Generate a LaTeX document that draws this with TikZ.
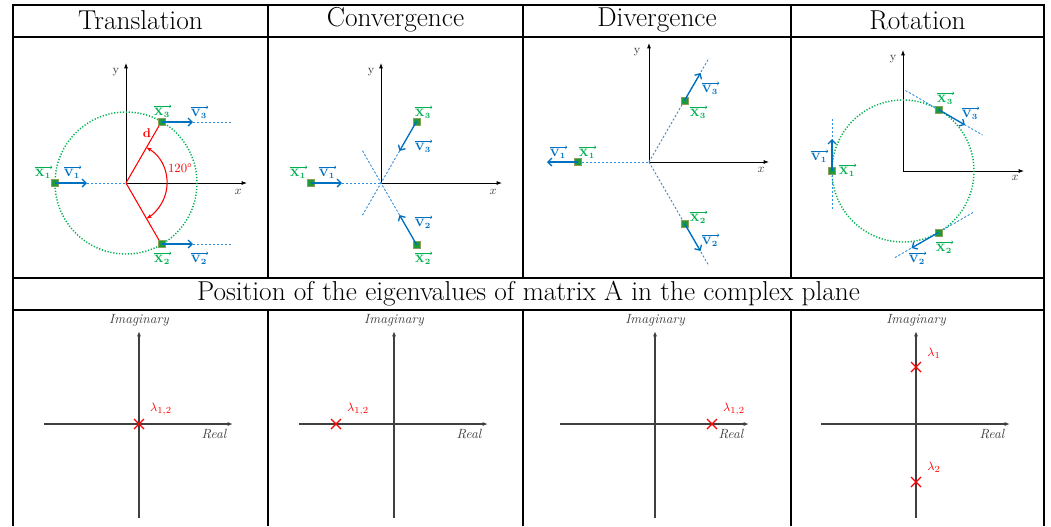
\documentclass[tikz,border=0pt]{standalone}
\usetikzlibrary{arrows.meta,shapes.misc}
\definecolor{gL}{HTML}{00B050}
\definecolor{gS}{HTML}{1E9A3C}
\definecolor{gB}{HTML}{8C9F5A}
\definecolor{bL}{HTML}{0070C0}
\definecolor{bD}{HTML}{2F8FE0}
\definecolor{rL}{HTML}{FF0000}
\definecolor{axc}{HTML}{404040}
\newcommand{\vlab}[1]{$\mathbf{#1}$}
\tikzset{
  grid/.style={line width=0.9pt, black},
  axis/.style={line width=0.7pt, -{Latex[length=4pt,width=3pt]}},
  cax/.style={line width=0.9pt, axc, -{Latex[length=4pt,width=3pt]}},
  cline/.style={line width=0.9pt, axc},
  pt/.style={draw=gB, fill=gS, minimum size=5pt, inner sep=0pt, line width=0.5pt},
  vec/.style={bL, line width=1pt, -{Straight Barb[length=3pt,width=6pt]}},
  ext/.style={bD, line width=0.7pt, dash pattern=on 1.6pt off 1.4pt},
  orbit/.style={gL, line width=1.1pt, dash pattern=on 0.9pt off 1.3pt},
  ovarr/.style={append after command={([yshift=1.6pt]\tikzlastnode.north west) edge[#1, line width=0.4pt, -{To[length=1.3pt,width=2.6pt]}] ([yshift=1.6pt,xshift=0.6pt]\tikzlastnode.north east)}},
  glab/.style={text=gL, font=\fontsize{8.5}{9}\selectfont, inner sep=0pt, ovarr=gL},
  blab/.style={text=bL, font=\fontsize{8.5}{9}\selectfont, inner sep=0pt, ovarr=bL},
  title/.style={font=\fontsize{20.5}{22}\selectfont, inner sep=0pt},
  evx/.style={cross out, draw=rL, line width=1pt, minimum size=6.5pt, inner sep=0pt},
  lam/.style={text=rL, font=\fontsize{9.5}{10}\selectfont, inner sep=0pt},
  itl/.style={font=\fontsize{10}{11}\selectfont\itshape, text=axc, inner sep=0pt},
  xyl/.style={font=\fontsize{9}{10}\selectfont, text=axc, inner sep=0pt},
  redl/.style={rL, line width=0.8pt},
}
\begin{document}
\begin{tikzpicture}[x=0.75pt,y=-0.75pt]
\useasboundingbox (0,0) rectangle (1051,526);
% ---------- table ----------
\draw[grid] (13,526) -- (13,5) -- (1044,5) -- (1044,526);
\draw[grid] (13,37) -- (1044,37);
\draw[grid] (13,278) -- (1044,278);
\draw[grid] (13,310) -- (1044,310);
\foreach \c in {268,523,791}{
  \draw[grid] (\c,5) -- (\c,278);
  \draw[grid] (\c,310) -- (\c,526);
}
\node[title] (t1) at (140.5,20) {Translation};
\node[title] (t2) at (395.5,20) {Convergence};
\node[title] (t3) at (657,20) {Divergence};
\node[title] (t4) at (917.5,20) {Rotation};
\node[title] (tm) at (528.5,294) {Position of the eigenvalues of matrix A in the complex plane};

% ---------- Translation ----------
\coordinate (o1) at (126,183);
\draw[axis] (o1) -- (126,63);
\draw[axis] (o1) -- (247,183);
\node[xyl] (xa1) at (238,192) {$x$};
\node[xyl] (ya1) at (116,72) {y};
\draw[orbit] (o1) circle[radius=71];
\draw[redl] (o1) -- (161.5,121.5);
\draw[redl] (o1) -- (161.5,244.5);
\draw[redl, {Stealth[length=4pt,width=3pt]}-{Stealth[length=4pt,width=3pt]}] (146.5,147.5) arc[start angle=-60, end angle=60, radius=41];
\node[text=rL, font=\fontsize{9.5}{10}\selectfont\bfseries, inner sep=0pt] (d1) at (147,133) {d};
\node[text=rL, font=\fontsize{9.5}{10}\selectfont, inner sep=0pt] (ang1) at (180,168) {120\textdegree};
\coordinate (a1t) at (87,183);
\coordinate (a3t) at (193,122);
\coordinate (a3e) at (233,122);
\coordinate (a2t) at (193,244);
\coordinate (a2e) at (233,244);
\draw[ext] (a1t) -- (o1);
\draw[ext] (a3t) -- (a3e);
\draw[ext] (a2t) -- (a2e);
\node[pt] (p11) at (55,183) {};
\node[pt] (p13) at (162,122) {};
\node[pt] (p12) at (162,244) {};
\draw[vec] (p11.center) -- (a1t);
\draw[vec] (p13.center) -- (a3t);
\draw[vec] (p12.center) -- (a2t);
\node[glab] (lx11) at (43,174) {\vlab{X_1}};
\node[blab] (lv11) at (72,174) {\vlab{V_1}};
\node[glab] (lx13) at (162,113) {\vlab{X_3}};
\node[blab] (lv13) at (199,114) {\vlab{V_3}};
\node[glab] (lx12) at (162,260) {\vlab{X_2}};
\node[blab] (lv12) at (199,260) {\vlab{V_2}};

% ---------- Convergence ----------
\coordinate (o2) at (381,183);
\draw[axis] (o2) -- (381,63);
\draw[axis] (o2) -- (502,183);
\node[xyl] (xa2) at (493,192) {$x$};
\node[xyl] (ya2) at (371,72) {y};
\coordinate (b1t) at (342,183);
\coordinate (b3t) at (399.5,151);
\coordinate (b3e) at (362,216);
\coordinate (b2t) at (399.5,215);
\coordinate (b2e) at (362,150);
\draw[ext] (b1t) -- (o2);
\draw[ext] (b3t) -- (b3e);
\draw[ext] (b2t) -- (b2e);
\node[pt] (p21) at (311,183) {};
\node[pt] (p23) at (416.5,121.5) {};
\node[pt] (p22) at (416.5,244.5) {};
\draw[vec] (p21.center) -- (b1t);
\draw[vec] (p23.center) -- (b3t);
\draw[vec] (p22.center) -- (b2t);
\node[glab] (lx21) at (298,174) {\vlab{X_1}};
\node[blab] (lv21) at (327,174) {\vlab{V_1}};
\node[glab] (lx23) at (423,114) {\vlab{X_3}};
\node[blab] (lv23) at (423,148) {\vlab{V_3}};
\node[blab] (lv22) at (423,224) {\vlab{V_2}};
\node[glab] (lx22) at (423,260) {\vlab{X_2}};

% ---------- Divergence ----------
\coordinate (o3) at (649,162);
\draw[axis] (o3) -- (649,43);
\draw[axis] (o3) -- (769,162);
\node[xyl] (xa3) at (761,170) {$x$};
\node[xyl] (ya3) at (637,52) {y};
\coordinate (c1t) at (547,162);
\coordinate (c3t) at (700.5,73);
\coordinate (c3e) at (709,58);
\coordinate (c2t) at (700.5,251);
\coordinate (c2e) at (709,266);
\coordinate (p31c) at (578,162);
\draw[ext] (p31c) -- (o3);
\draw[ext] (o3) -- (c3e);
\draw[ext] (o3) -- (c2e);
\node[pt] (p31) at (p31c) {};
\node[pt] (p33) at (684.5,100.5) {};
\node[pt] (p32) at (684.5,223.5) {};
\draw[vec] (p31.center) -- (c1t);
\draw[vec] (p33.center) -- (c3t);
\draw[vec] (p32.center) -- (c2t);
\node[blab] (lv31) at (558,154) {\vlab{V_1}};
\node[glab] (lx31) at (587,154) {\vlab{X_1}};
\node[blab] (lv33) at (710,90) {\vlab{V_3}};
\node[glab] (lx33) at (698,114) {\vlab{X_3}};
\node[glab] (lx32) at (698,219) {\vlab{X_2}};
\node[blab] (lv32) at (710,242) {\vlab{V_2}};

% ---------- Rotation ----------
\coordinate (o4) at (903,171);
\draw[axis] (o4) -- (903,50);
\draw[axis] (o4) -- (1024,171);
\node[xyl] (xa4) at (1015,178) {$x$};
\node[xyl] (ya4) at (893,59) {y};
\draw[orbit] (o4) circle[radius=71];
\coordinate (d1t) at (832,139);
\coordinate (d1a) at (832,119);
\coordinate (d1b) at (832,209);
\coordinate (d3t) at (965,125);
\coordinate (d3a) at (905.5,90.5);
\coordinate (d3b) at (982.5,135);
\coordinate (d2t) at (911.5,248);
\coordinate (d2a) at (973,212.5);
\coordinate (d2b) at (895,257.5);
\draw[ext] (d1a) -- (d1b);
\draw[ext] (d3a) -- (d3b);
\draw[ext] (d2a) -- (d2b);
\node[pt] (p41) at (832,171) {};
\node[pt] (p43) at (938.5,109.5) {};
\node[pt] (p42) at (938.5,232.5) {};
\draw[vec] (p41.center) -- (d1t);
\draw[vec] (p43.center) -- (d3t);
\draw[vec] (p42.center) -- (d2t);
\node[blab] (lv41) at (819,158) {\vlab{V_1}};
\node[glab] (lx41) at (847,172) {\vlab{X_1}};
\node[glab] (lx43) at (945,100) {\vlab{X_3}};
\node[blab] (lv43) at (970,115) {\vlab{V_3}};
\node[blab] (lv42) at (917,260) {\vlab{V_2}};
\node[glab] (lx42) at (944,249) {\vlab{X_2}};

% ---------- complex planes ----------
\foreach \ox/\l/\r/\n in {139/44/233/1, 394/299/488/2, 655/560/749/3, 916/821/1010/4}{
  \coordinate (q\n) at (\ox,424);
  \draw[cline] (\ox,518) -- (\ox,424);
  \draw[cax] (\ox,424) -- (\ox,331);
  \draw[cax] (\l,424) -- (\r,424);
  \node[itl] (im\n) at (\ox,320) {Imaginary};
}
\node[itl] (re1) at (214,434) {Real};
\node[itl] (re2) at (469,434) {Real};
\node[itl] (re3) at (731,434) {Real};
\node[itl] (re4) at (992,434) {Real};
\node[evx] (e1) at (139,424) {};
\node[lam] (l1) at (161,409) {$\lambda_{1,2}$};
\node[evx] (e2) at (336,424) {};
\node[lam] (l2) at (358,409) {$\lambda_{1,2}$};
\node[evx] (e3) at (712,424) {};
\node[lam] (l3) at (734,409) {$\lambda_{1,2}$};
\node[evx] (e41) at (916,367) {};
\node[lam] (l41) at (934,353) {$\lambda_1$};
\node[evx] (e42) at (916,482) {};
\node[lam] (l42) at (934,467) {$\lambda_2$};
\end{tikzpicture}
\end{document}
